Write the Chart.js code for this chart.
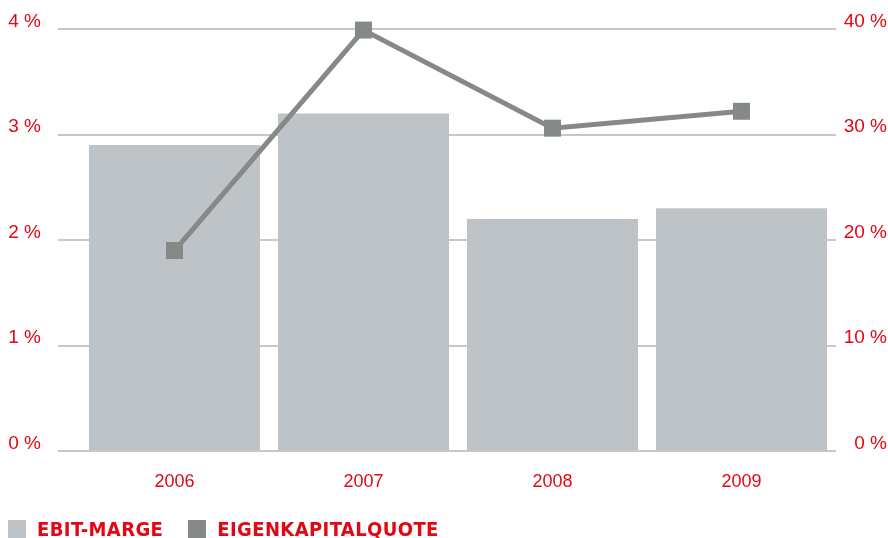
<!DOCTYPE html>
<html>
<head>
<meta charset="utf-8">
<script src="https://cdn.jsdelivr.net/npm/chart.js@4/dist/chart.umd.min.js"></script>
<style>
  html, body { margin: 0; padding: 0; background: #fff; overflow: hidden; }
  #wrap { width: 888px; height: 538px; position: relative; }
  #legend { position: absolute; left: 8px; top: 519px; display: flex; white-space: nowrap; }
  #legend .item { display: flex; align-items: flex-start; margin-right: 25px; }
  #legend .box { width: 18px; height: 18px; margin-right: 11px; margin-top: 1px; }
  #legend .txt {
    font-family: 'DejaVu Sans Condensed', 'DejaVu Sans', sans-serif;
    font-weight: bold; font-size: 20px; line-height: 20px;
    letter-spacing: 0.4px; color: #e30613;
  }
</style>
</head>
<body>
<div id="wrap">
  <canvas id="chart"></canvas>
  <div id="legend"></div>
</div>
<script>
// data
const years = ["2006", "2007", "2008", "2009"];
const ebitMarge = [2.9, 3.2, 2.2, 2.3];            // left axis, %
const eigenkapitalquote = [19, 39.9, 30.6, 32.2];  // right axis, %
const seriesNames = ["EBIT-MARGE", "EIGENKAPITALQUOTE"];

const RED = "#e30613";
const BAR = "#bec3c7";
const LINE = "#858a89";
const GRID = "#c6c8ca";
const tickFont = { size: 19, lineHeight: "15px", family: "'Liberation Sans', Arial, sans-serif" };

// labels sit on top of their gridline: second empty line pushes text up
const pct = v => [v + " %", ""];
// keep the tall labels from pushing the plot area around
const noPad = s => { s.paddingTop = 0; s.paddingBottom = 0; };

new Chart(document.getElementById("chart"), {
  data: {
    labels: years,
    datasets: [
      {
        type: "bar",
        label: seriesNames[0],
        data: ebitMarge,
        backgroundColor: BAR,
        categoryPercentage: 1,
        barPercentage: 0.905,
        yAxisID: "y",
        order: 2
      },
      {
        type: "line",
        label: seriesNames[1],
        data: eigenkapitalquote,
        borderColor: LINE,
        backgroundColor: LINE,
        borderWidth: 5,
        tension: 0,
        pointStyle: "rect",
        pointRadius: 12,
        pointBorderWidth: 0,
        pointBackgroundColor: LINE,
        clip: false,
        yAxisID: "y1",
        order: 1
      }
    ]
  },
  options: {
    responsive: true,
    maintainAspectRatio: false,
    animation: false,
    layout: { padding: { top: 29, right: 1, left: 0, bottom: 0 } },
    plugins: {
      tooltip: { enabled: false },
      legend: { display: false }
    },
    scales: {
      x: {
        grid: { display: false, drawTicks: false },
        border: { display: false },
        ticks: { color: RED, padding: 20, font: { size: 18, family: "'Liberation Sans', Arial, sans-serif" } },
        afterFit: s => { s.height = 87; }
      },
      y: {
        position: "left",
        min: 0, max: 4,
        grid: { color: GRID, lineWidth: 2, drawTicks: true, tickLength: 22 },
        border: { display: false },
        ticks: { stepSize: 1, color: RED, padding: 17, font: tickFont, callback: pct },
        afterFit: s => { s.width = 80; noPad(s); }
      },
      y1: {
        position: "right",
        min: 0, max: 40,
        grid: { display: false },
        border: { display: false },
        ticks: { stepSize: 10, color: RED, crossAlign: "far", font: tickFont, callback: pct },
        afterFit: s => { s.width = 51; noPad(s); }
      }
    }
  }
});

// legend as html so spacing matches the print layout
const legendColors = [BAR, LINE];
document.getElementById("legend").innerHTML = seriesNames.map((name, i) =>
  `<div class="item"><div class="box" style="background:${legendColors[i]}"></div><div class="txt">${name}</div></div>`
).join("");
</script>
</body>
</html>
